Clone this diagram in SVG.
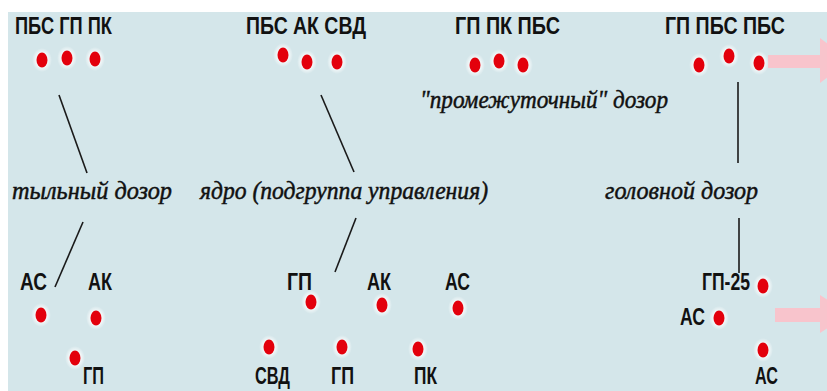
<svg xmlns="http://www.w3.org/2000/svg" width="827" height="391" viewBox="0 0 827 391">
  <style>
    .lbl { font-family: "Liberation Sans", "DejaVu Sans", sans-serif; font-weight: bold; font-size: 24px; fill: #111; }
    .cap { font-family: "Liberation Serif", "DejaVu Serif", serif; font-style: italic; font-size: 26px; fill: #111; stroke: #111; stroke-width: 0.5; }
    .ln { stroke: #1a1a1a; stroke-width: 1.6; fill: none; }
    .arrow { fill: #f8c4cc; }
  </style>
  <defs>
    <radialGradient id="halo">
      <stop offset="0.55" stop-color="#ffffff" stop-opacity="0.8"/>
      <stop offset="1" stop-color="#ffffff" stop-opacity="0"/>
    </radialGradient>
    <g id="dot">
      <ellipse cx="0" cy="0" rx="10" ry="12" fill="url(#halo)"/>
      <ellipse cx="0" cy="0" rx="5.5" ry="7.5" fill="#e3000c"/>
    </g>
  </defs>
  <rect x="0" y="0" width="827" height="391" fill="#ffffff"/>
  <rect x="8" y="12" width="819" height="379" fill="#d4e6ea"/>

  <g id="arrows">
    <rect class="arrow" x="768" y="55" width="54" height="13"/>
    <polygon class="arrow" points="820,38 850,60 820,83"/>
    <rect class="arrow" x="775" y="308" width="47" height="14"/>
    <polygon class="arrow" points="820,295 850,314 820,333"/>
  </g>

  <g id="connectors">
    <line class="ln" x1="59" y1="95" x2="87" y2="173"/>
    <line class="ln" x1="321" y1="95" x2="354" y2="172"/>
    <line class="ln" x1="738" y1="82" x2="738" y2="163"/>
    <line class="ln" x1="83" y1="222" x2="55" y2="287"/>
    <line class="ln" x1="356" y1="218" x2="335" y2="272"/>
    <line class="ln" x1="739" y1="218" x2="739" y2="273"/>
  </g>

  <g id="rear-top">
    <text class="lbl" x="15" y="34" textLength="97" lengthAdjust="spacingAndGlyphs">ПБС ГП ПК</text>
    <use href="#dot" x="42" y="60"/>
    <use href="#dot" x="67" y="58"/>
    <use href="#dot" x="95" y="59"/>
  </g>

  <g id="core-top">
    <text class="lbl" x="246" y="34" textLength="120" lengthAdjust="spacingAndGlyphs">ПБС АК СВД</text>
    <use href="#dot" x="283" y="55"/>
    <use href="#dot" x="307" y="62"/>
    <use href="#dot" x="337" y="62"/>
  </g>

  <g id="mid-top">
    <text class="lbl" x="455" y="34" textLength="105" lengthAdjust="spacingAndGlyphs">ГП ПК ПБС</text>
    <use href="#dot" x="475" y="65"/>
    <use href="#dot" x="499" y="61"/>
    <use href="#dot" x="523" y="65"/>
    <text class="cap" x="420" y="108" textLength="248" lengthAdjust="spacingAndGlyphs">"промежуточный" дозор</text>
  </g>

  <g id="head-top">
    <text class="lbl" x="665" y="34" textLength="120" lengthAdjust="spacingAndGlyphs">ГП ПБС ПБС</text>
    <use href="#dot" x="699" y="65"/>
    <use href="#dot" x="729" y="56"/>
    <use href="#dot" x="759" y="63"/>
  </g>

  <g id="captions">
    <text class="cap" x="12" y="199" textLength="160" lengthAdjust="spacingAndGlyphs">тыльный дозор</text>
    <text class="cap" x="200" y="199" textLength="288" lengthAdjust="spacingAndGlyphs">ядро (подгруппа управления)</text>
    <text class="cap" x="605" y="199" textLength="153" lengthAdjust="spacingAndGlyphs">головной дозор</text>
  </g>

  <g id="rear-bottom">
    <text class="lbl" x="20" y="290" textLength="27" lengthAdjust="spacingAndGlyphs">АС</text>
    <text class="lbl" x="88" y="290" textLength="24" lengthAdjust="spacingAndGlyphs">АК</text>
    <use href="#dot" x="41" y="315"/>
    <use href="#dot" x="96" y="318"/>
    <use href="#dot" x="75" y="358"/>
    <text class="lbl" x="83" y="384" textLength="21" lengthAdjust="spacingAndGlyphs">ГП</text>
  </g>

  <g id="core-bottom">
    <text class="lbl" x="287" y="290" textLength="25" lengthAdjust="spacingAndGlyphs">ГП</text>
    <text class="lbl" x="367" y="290" textLength="24" lengthAdjust="spacingAndGlyphs">АК</text>
    <text class="lbl" x="445" y="290" textLength="25" lengthAdjust="spacingAndGlyphs">АС</text>
    <use href="#dot" x="311" y="302"/>
    <use href="#dot" x="382" y="305"/>
    <use href="#dot" x="458" y="308"/>
    <use href="#dot" x="269" y="347"/>
    <use href="#dot" x="342" y="347"/>
    <use href="#dot" x="418" y="349"/>
    <text class="lbl" x="255" y="384" textLength="35" lengthAdjust="spacingAndGlyphs">СВД</text>
    <text class="lbl" x="331" y="384" textLength="23" lengthAdjust="spacingAndGlyphs">ГП</text>
    <text class="lbl" x="414" y="384" textLength="23" lengthAdjust="spacingAndGlyphs">ПК</text>
  </g>

  <g id="head-bottom">
    <text class="lbl" x="702" y="290" textLength="48" lengthAdjust="spacingAndGlyphs">ГП-25</text>
    <use href="#dot" x="763" y="286"/>
    <text class="lbl" x="680" y="325" textLength="25" lengthAdjust="spacingAndGlyphs">АС</text>
    <use href="#dot" x="719" y="318"/>
    <use href="#dot" x="763" y="350"/>
    <text class="lbl" x="755" y="384" textLength="23" lengthAdjust="spacingAndGlyphs">АС</text>
  </g>
</svg>
